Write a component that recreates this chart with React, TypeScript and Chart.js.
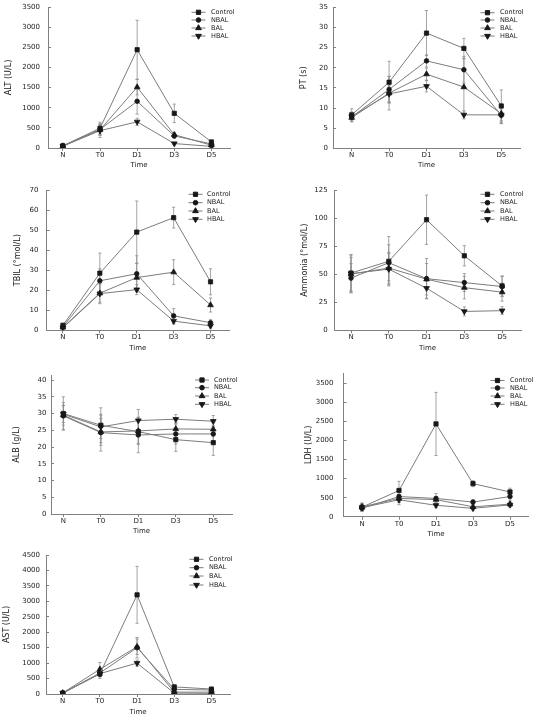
import React, { useEffect, useRef } from 'react';
import { Chart, registerables } from 'chart.js';
import { drawPoint } from 'chart.js/helpers';

Chart.register(...registerables);

// ---------- data ----------
const timeLabels = ['N', 'T0', 'D1', 'D3', 'D5'];
const groupNames = ['Control', 'NBAL', 'BAL', 'HBAL'];

// ALT (U/L)
const altControl = [55, 490, 2440, 860, 150];
const altNBAL = [50, 460, 1160, 300, 100];
const altBAL = [48, 450, 1510, 330, 70];
const altHBAL = [45, 430, 650, 110, 40];
const altControlErr = [15, 150, 730, 230, 40];
const altNBALErr = [10, 120, 320, 60, 30];
const altBALErr = [10, 140, 190, 50, 20];
const altHBALErr = [10, 170, 90, 30, 15];
const altTicks = [0, 500, 1000, 1500, 2000, 2500, 3000, 3500];

// PT (s)
const ptControl = [8.3, 16.4, 28.6, 24.8, 10.5];
const ptNBAL = [7.8, 14.6, 21.7, 19.5, 8.2];
const ptBAL = [7.6, 13.7, 18.4, 15.2, 8.6];
const ptHBAL = [7.9, 13.5, 15.4, 8.3, 8.3];
const ptControlErr = [1.5, 5.2, 5.6, 2.5, 4.0];
const ptNBALErr = [1.2, 3.2, 1.5, 3.3, 2.0];
const ptBALErr = [1.0, 4.2, 1.5, 7.0, 2.5];
const ptHBALErr = [0.8, 2.0, 1.4, 1.0, 1.5];
const ptTicks = [0, 5, 10, 15, 20, 25, 30, 35];

// TBIL
const tbilControl = [2.5, 28.5, 49, 56.2, 24.2];
const tbilNBAL = [1.8, 24.7, 28.2, 7.2, 3.8];
const tbilBAL = [1.5, 18.5, 26.3, 29, 12.6];
const tbilHBAL = [1.2, 18.3, 20.3, 4.6, 2.2];
const tbilControlErr = [1.0, 10, 15.5, 5.2, 6.5];
const tbilNBALErr = [0.8, 6, 9, 3.6, 1.5];
const tbilBALErr = [0.6, 4.5, 7, 6.2, 3.5];
const tbilHBALErr = [0.5, 5, 2.5, 1.5, 1.0];
const tbilTicks = [0, 10, 20, 30, 40, 50, 60, 70];

// Ammonia
const ammControl = [51, 61.5, 98.5, 66.4, 39.5];
const ammNBAL = [46.5, 60.2, 46, 42.5, 39];
const ammBAL = [50, 55.5, 45.5, 38, 34];
const ammHBAL = [50.5, 54.5, 37.5, 16.8, 17.5];
const ammControlErr = [16, 22, 22, 9, 9];
const ammNBALErr = [13, 16, 18, 8, 9];
const ammBALErr = [15, 14, 14, 10, 8];
const ammHBALErr = [17, 14, 9, 4, 3.5];
const ammTicks = [0, 25, 50, 75, 100, 125];

// ALB (g/L)
const albControl = [30, 26.5, 24.6, 22.2, 21.3];
const albNBAL = [29.3, 24.3, 23.6, 23.9, 23.9];
const albBAL = [29.5, 24.5, 24.8, 25.4, 25.3];
const albHBAL = [29.8, 26, 27.9, 28.3, 27.7];
const albControlErr = [5, 5.2, 3.5, 3.5, 3.8];
const albNBALErr = [4, 5.5, 5.3, 3, 2.5];
const albBALErr = [3, 4, 4, 2, 2];
const albHBALErr = [2.5, 3.5, 3.3, 1.4, 1.7];
const albTicks = [0, 5, 10, 15, 20, 25, 30, 35, 40];

// LDH (U/L)
const ldhControl = [250, 690, 2440, 870, 650];
const ldhNBAL = [220, 530, 480, 385, 530];
const ldhBAL = [260, 480, 450, 260, 330];
const ldhHBAL = [240, 445, 300, 220, 310];
const ldhControlErr = [110, 240, 830, 80, 100];
const ldhNBALErr = [80, 150, 130, 60, 100];
const ldhBALErr = [90, 100, 80, 50, 60];
const ldhHBALErr = [70, 130, 60, 40, 50];
const ldhTicks = [0, 500, 1000, 1500, 2000, 2500, 3000, 3500];

// AST (U/L)
const astControl = [30, 650, 3210, 230, 160];
const astNBAL = [30, 680, 1500, 150, 130];
const astBAL = [35, 800, 1530, 60, 60];
const astHBAL = [25, 660, 1000, 30, 20];
const astControlErr = [10, 150, 920, 50, 30];
const astNBALErr = [10, 120, 330, 40, 30];
const astBALErr = [10, 220, 250, 20, 20];
const astHBALErr = [10, 100, 100, 10, 10];
const astTicks = [0, 500, 1000, 1500, 2000, 2500, 3000, 3500, 4000, 4500];

// ---------- styles ----------
const FONT = '"DejaVu Sans", Verdana, sans-serif';
const LINE = '#7c7c7c';
const ERR = '#8e8e8e';
const MARK = '#181818';
const AXIS = '#808080';
const TEXT = '#222222';

const markers = [
  { style: 'rect', radius: 3, rotation: 0 },
  { style: 'circle', radius: 2.3, rotation: 0 },
  { style: 'triangle', radius: 3.3, rotation: 0 },
  { style: 'triangle', radius: 3.3, rotation: 180 },
];

type Panel = {
  id: string;
  yTitle: string;
  series: number[][];
  errors: number[][];
  ticks: number[];
  yMax: number;
  x: number; y: number; w: number; h: number;
  ax: number; yTop: number; yBot: number; xr: number;
  xMin: number; xMax: number;
  gap: number; titleCx: number; timeCy: number;
  legendX: number; textX: number; legendRows: number[];
};

const panels: Panel[] = [
  {
    id: 'alt', yTitle: 'ALT (U/L)',
    series: [altControl, altNBAL, altBAL, altHBAL],
    errors: [altControlErr, altNBALErr, altBALErr, altHBALErr],
    ticks: altTicks, yMax: 3500,
    x: 0, y: 0, w: 265, h: 178,
    ax: 48, yTop: 7, yBot: 148, xr: 230, xMin: -0.4, xMax: 4.5,
    gap: 8, titleCx: 9, timeCy: 165.5,
    legendX: 198.5, textX: 211, legendRows: [12.3, 20, 28, 36],
  },
  {
    id: 'pt', yTitle: 'PT (s)',
    series: [ptControl, ptNBAL, ptBAL, ptHBAL],
    errors: [ptControlErr, ptNBALErr, ptBALErr, ptHBALErr],
    ticks: ptTicks, yMax: 35,
    x: 265, y: 0, w: 270, h: 178,
    ax: 333, yTop: 7.3, yBot: 148.3, xr: 520, xMin: -0.5, xMax: 4.5,
    gap: 5, titleCx: 303.5, timeCy: 165.5,
    legendX: 487.5, textX: 500, legendRows: [12.7, 20, 28, 36],
  },
  {
    id: 'tbil', yTitle: 'TBIL (°mol/L)',
    series: [tbilControl, tbilNBAL, tbilBAL, tbilHBAL],
    errors: [tbilControlErr, tbilNBALErr, tbilBALErr, tbilHBALErr],
    ticks: tbilTicks, yMax: 70,
    x: 0, y: 175, w: 265, h: 180,
    ax: 46.7, yTop: 190, yBot: 330.3, xr: 229, xMin: -0.44, xMax: 4.5,
    gap: 8.3, titleCx: 18, timeCy: 348,
    legendX: 195.5, textX: 207, legendRows: [194.3, 202.7, 211, 219.3],
  },
  {
    id: 'ammonia', yTitle: 'Ammonia (°mol/L)',
    series: [ammControl, ammNBAL, ammBAL, ammHBAL],
    errors: [ammControlErr, ammNBALErr, ammBALErr, ammHBALErr],
    ticks: ammTicks, yMax: 125,
    x: 265, y: 175, w: 270, h: 180,
    ax: 334, yTop: 190, yBot: 330.3, xr: 521, xMin: -0.45, xMax: 4.5,
    gap: 6.3, titleCx: 304.5, timeCy: 348,
    legendX: 487.5, textX: 500, legendRows: [194.3, 202.7, 211, 219.3],
  },
  {
    id: 'alb', yTitle: 'ALB (g/L)',
    series: [albControl, albNBAL, albBAL, albHBAL],
    errors: [albControlErr, albNBALErr, albBALErr, albHBALErr],
    ticks: albTicks, yMax: 41.5,
    x: 0, y: 350, w: 265, h: 190,
    ax: 51, yTop: 375, yBot: 514, xr: 232, xMin: -0.33, xMax: 4.5,
    gap: 4.5, titleCx: 17, timeCy: 531.5,
    legendX: 202, textX: 214, legendRows: [380, 387.7, 396, 404.3],
  },
  {
    id: 'ldh', yTitle: 'LDH (U/L)',
    series: [ldhControl, ldhNBAL, ldhBAL, ldhHBAL],
    errors: [ldhControlErr, ldhNBALErr, ldhBALErr, ldhHBALErr],
    ticks: ldhTicks, yMax: 3780,
    x: 265, y: 350, w: 270, h: 190,
    ax: 343.5, yTop: 373, yBot: 516.7, xr: 528.5, xMin: -0.5, xMax: 4.5,
    gap: 10, titleCx: 308.5, timeCy: 534,
    legendX: 497.5, textX: 510, legendRows: [380.5, 388, 396, 404.3],
  },
  {
    id: 'ast', yTitle: 'AST (U/L)',
    series: [astControl, astNBAL, astBAL, astHBAL],
    errors: [astControlErr, astNBALErr, astBALErr, astHBALErr],
    ticks: astTicks, yMax: 4500,
    x: 0, y: 530, w: 265, h: 190,
    ax: 46, yTop: 555, yBot: 694, xr: 230, xMin: -0.45, xMax: 4.5,
    gap: 6, titleCx: 7.3, timeCy: 712,
    legendX: 196.5, textX: 209, legendRows: [559.3, 567.7, 576, 585],
  },
];

const errorBarPlugin = {
  id: 'errorBars',
  beforeDatasetsDraw(chart: any) {
    const ctx = chart.ctx;
    const yScale = chart.scales.y;
    ctx.save();
    ctx.strokeStyle = ERR;
    ctx.lineWidth = 0.8;
    chart.data.datasets.forEach((ds: any, i: number) => {
      const meta = chart.getDatasetMeta(i);
      meta.data.forEach((pt: any, j: number) => {
        const v = ds.data[j].y;
        const e = ds.errors[j];
        const x = pt.x;
        const y1 = yScale.getPixelForValue(v + e);
        const y2 = yScale.getPixelForValue(v - e);
        ctx.beginPath();
        ctx.moveTo(x, y1);
        ctx.lineTo(x, y2);
        ctx.moveTo(x - 1.6, y1);
        ctx.lineTo(x + 1.6, y1);
        ctx.moveTo(x - 1.6, y2);
        ctx.lineTo(x + 1.6, y2);
        ctx.stroke();
      });
    });
    ctx.restore();
  },
};

function PanelChart({ p }: { p: Panel }) {
  const ref = useRef<HTMLCanvasElement | null>(null);
  useEffect(() => {
    const canvas = ref.current;
    if (!canvas) return;
    const lhTitleY = 8 * 1.2;
    const lhTick = 7 * 1.2;
    const yScaleWidth = p.ax - p.x;
    const xScaleHeight = p.timeCy - p.yBot + lhTick / 2;
    const padTop = p.yTop - p.y;
    const padBottom = p.y + p.h - p.yBot - xScaleHeight;
    const padRight = p.x + p.w - p.xr;

    const datasets = p.series.map((vals, i) => ({
      label: groupNames[i],
      data: vals.map((v, j) => ({ x: j, y: v })),
      errors: p.errors[i],
      borderColor: LINE,
      borderWidth: 1,
      tension: 0,
      fill: false,
      pointStyle: markers[i].style,
      pointRotation: markers[i].rotation,
      pointRadius: markers[i].radius,
      pointHoverRadius: markers[i].radius,
      pointBackgroundColor: MARK,
      pointBorderColor: MARK,
      pointBorderWidth: 0.8,
    }));

    const legendPlugin = {
      id: 'groupLegend',
      afterDraw(chart: any) {
        const ctx = chart.ctx;
        ctx.save();
        chart.data.datasets.forEach((ds: any, i: number) => {
          const y = p.legendRows[i] - p.y;
          const mx = p.legendX - p.x;
          ctx.strokeStyle = LINE;
          ctx.lineWidth = 1;
          ctx.beginPath();
          ctx.moveTo(mx - 7, y);
          ctx.lineTo(mx + 7, y);
          ctx.stroke();
          ctx.fillStyle = MARK;
          ctx.strokeStyle = MARK;
          drawPoint(ctx, { pointStyle: ds.pointStyle, rotation: ds.pointRotation, radius: ds.pointRadius, borderWidth: 0.8 } as any, mx, y);
          ctx.fillStyle = TEXT;
          ctx.font = `6.5px ${FONT}`;
          ctx.textBaseline = 'middle';
          ctx.textAlign = 'left';
          ctx.fillText(ds.label, p.textX - p.x, y);
        });
        ctx.restore();
      },
    };

    const chart = new Chart(canvas, {
      type: 'line',
      data: { datasets: datasets as any },
      options: {
        animation: false,
        responsive: false,
        maintainAspectRatio: false,
        events: [],
        layout: { autoPadding: false, padding: { left: 0, top: padTop, right: padRight, bottom: padBottom } } as any,
        plugins: { legend: { display: false }, tooltip: { enabled: false } },
        scales: {
          x: {
            type: 'linear',
            min: p.xMin,
            max: p.xMax,
            afterBuildTicks: (s: any) => { s.ticks = timeLabels.map((_, i) => ({ value: i })); },
            afterFit: (s: any) => { s.height = xScaleHeight; s.paddingLeft = 0; s.paddingRight = 0; },
            ticks: {
              callback: (v: any) => timeLabels[v] ?? '',
              font: { family: FONT, size: 7 },
              color: TEXT,
              padding: 0,
              maxRotation: 0,
              autoSkip: false,
            },
            grid: { display: true, drawOnChartArea: false, drawTicks: true, tickLength: 3, color: AXIS, lineWidth: 1 },
            border: { display: true, color: AXIS, width: 1 },
            title: { display: true, text: 'Time', font: { family: FONT, size: 7 }, color: TEXT, padding: 0 },
          },
          y: {
            type: 'linear',
            min: 0,
            max: p.yMax,
            afterBuildTicks: (s: any) => { s.ticks = p.ticks.map((v) => ({ value: v })); },
            afterFit: (s: any) => { s.width = yScaleWidth; s.paddingTop = 0; s.paddingBottom = 0; },
            ticks: {
              callback: (v: any) => String(v),
              font: { family: FONT, size: 7 },
              color: TEXT,
              padding: p.gap + 3,
              autoSkip: false,
            },
            grid: { display: true, drawOnChartArea: false, drawTicks: true, tickLength: -3, color: AXIS, lineWidth: 1 },
            border: { display: true, color: AXIS, width: 1 },
            title: {
              display: true,
              text: p.yTitle,
              font: { family: FONT, size: 8 },
              color: TEXT,
              padding: { top: p.titleCx - p.x - lhTitleY / 2, bottom: 0 },
            },
          },
        },
      } as any,
      plugins: [errorBarPlugin, legendPlugin],
    });
    return () => chart.destroy();
  }, [p]);

  return (
    <canvas
      ref={ref}
      width={p.w}
      height={p.h}
      style={{ position: 'absolute', left: p.x, top: p.y, width: p.w, height: p.h }}
    />
  );
}

export default function App() {
  return (
    <div style={{ position: 'fixed', left: 0, top: 0, width: 535, height: 720, background: '#ffffff', overflow: 'hidden' }}>
      {panels.map((p) => (
        <PanelChart key={p.id} p={p} />
      ))}
    </div>
  );
}
